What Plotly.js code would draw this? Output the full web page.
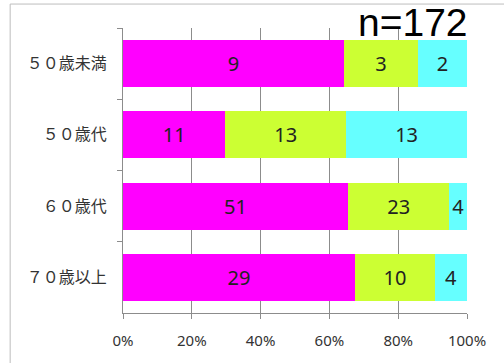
<!DOCTYPE html>
<html><head><meta charset="utf-8">
<script src="https://cdn.plot.ly/plotly-3.0.1.min.js"></script>
<style>html,body{margin:0;padding:0;background:#fff}#c{width:504px;height:363px}</style>
</head><body><div id="c"></div>
<script>
const categories = ["５０歳未満", "５０歳代", "６０歳代", "７０歳以上"];
const seriesA = [9, 11, 51, 29];
const seriesB = [3, 13, 23, 10];
const seriesC = [2, 13, 4, 4];
const xTickVals = [0, 20, 40, 60, 80, 100];
const xTickText = ["0%", "20%", "40%", "60%", "80%", "100%"];
const annotationText = "n=172";

const colors = ["#FF00FF", "#CCFF33", "#66FFFF"];
const series = [seriesA, seriesB, seriesC];
const traces = series.map((vals, i) => ({
  type: "bar", orientation: "h",
  y: categories, x: vals, text: vals.map(String),
  texttemplate: "%{text}", textposition: "inside", insidetextanchor: "middle",
  textangle: 0, constraintext: "none",
  textfont: {family: "Noto Sans, sans-serif", size: 20, color: "#222"},
  marker: {color: colors[i], line: {width: 0}},
  width: 0.66, hoverinfo: "none", showlegend: false
}));

const layout = {
  width: 504, height: 363,
  margin: {l: 123, r: 37, t: 28, b: 50},
  barmode: "stack", barnorm: "percent",
  paper_bgcolor: "#fff", plot_bgcolor: "#fff",
  xaxis: {range: [0, 100], tickvals: xTickVals, ticktext: xTickText,
    showgrid: true, gridcolor: "#8c8c8c", gridwidth: 1, zeroline: false,
    showline: true, linecolor: "#8c8c8c", ticks: "outside", ticklen: 5, tickcolor: "#8c8c8c",
    ticklabelstandoff: 9,
    tickfont: {family: "Noto Sans, sans-serif", size: 15, color: "#333"}, fixedrange: true},
  yaxis: {categoryorder: "array", categoryarray: categories, autorange: "reversed",
    showline: true, linecolor: "#8c8c8c", ticks: "outside", ticklen: 5, tickcolor: "#8c8c8c",
    tickson: "boundaries", showgrid: false, zeroline: false, ticklabelstandoff: 12,
    tickfont: {family: "Noto Sans CJK JP, sans-serif", size: 16, color: "#333"}, fixedrange: true},
  shapes: [{type: "rect", xref: "paper", yref: "paper", x0: -0.328, x1: 1.2, y0: -0.2, y1: 1.084,
    line: {color: "#bdbdbd", width: 1}, fillcolor: "rgba(0,0,0,0)", layer: "below"}],
  annotations: [{text: annotationText, xref: "paper", yref: "paper", x: 0.843, y: 1.098,
    xanchor: "center", yanchor: "top", showarrow: false, borderpad: 0,
    font: {family: "Liberation Sans, Arial, sans-serif", size: 39, color: "#000"}}]
};
Plotly.newPlot("c", traces, layout, {displayModeBar: false, staticPlot: true});
</script></body></html>
